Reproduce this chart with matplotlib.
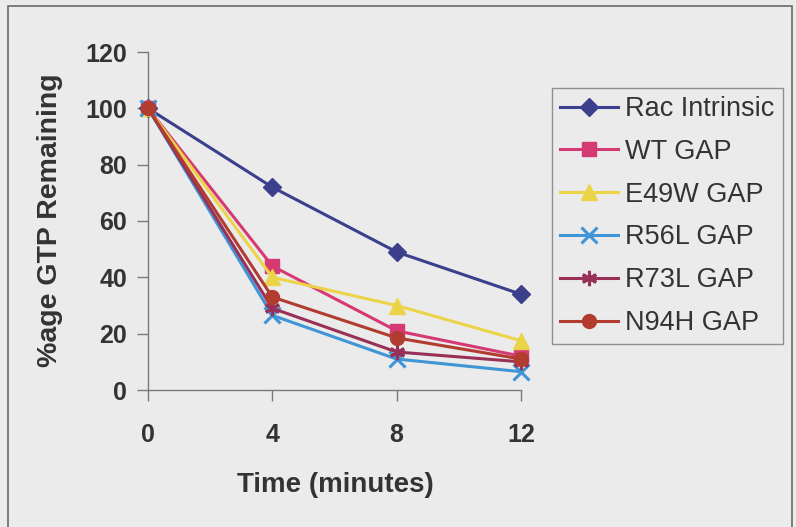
import matplotlib
matplotlib.use('Agg')
import matplotlib.pyplot as plt
from matplotlib.patches import Rectangle

# time points (minutes) and % GTP remaining
time = [0, 4, 8, 12]
rac_intrinsic = [100, 72, 49, 34]
wt_gap = [100, 44, 21, 12]
e49w_gap = [100, 40, 30, 17.5]
r56l_gap = [100, 26.5, 11, 6.5]
r73l_gap = [100, 29, 13.5, 10]
n94h_gap = [100, 33, 18.5, 11]

labels = ['Rac Intrinsic', 'WT GAP', 'E49W GAP', 'R56L GAP', 'R73L GAP', 'N94H GAP']
series = [rac_intrinsic, wt_gap, e49w_gap, r56l_gap, r73l_gap, n94h_gap]
colors = ['#3b3f8c', '#d63a74', '#ecd449', '#3f95d6', '#983058', '#b23c30']
markers = ['D', 's', '^', 'x', (6, 2, 0), 'o']
msizes = [9, 10, 11, 11, 11, 10]

bg = '#ebebeb'
txt = '#333333'
plt.rcParams['font.family'] = ['Liberation Sans', 'DejaVu Sans']

W, H = 796, 527
fig = plt.figure(figsize=(W / 100, H / 100), dpi=100, facecolor=bg)
ax = fig.add_axes([148 / W, 1 - 390 / H, (521 - 148) / W, (390 - 52) / H])
ax.set_facecolor(bg)

for y, lab, c, m, ms in zip(series, labels, colors, markers, msizes):
    ax.plot(time, y, color=c, lw=2.2, marker=m, ms=ms, mew=2.2 if m in ('x', (6, 2, 0)) else 1,
            mec=c, mfc=c, label=lab, clip_on=False, zorder=3)

ax.set_xlim(0, 12)
ax.set_ylim(0, 120)
ax.set_xticks([0, 4, 8, 12])
ax.set_yticks(range(0, 121, 20))
for s in ['top', 'right']:
    ax.spines[s].set_visible(False)
for s in ['left', 'bottom']:
    ax.spines[s].set_color('#7a7a7a')
    ax.spines[s].set_linewidth(1.0)
ax.tick_params(axis='both', direction='out', length=8, width=1, color='#7a7a7a',
               labelsize=18, labelcolor=txt)
ax.tick_params(axis='y', pad=7)
ax.tick_params(axis='x', pad=16)
for t in ax.get_xticklabels() + ax.get_yticklabels():
    t.set_fontweight('bold')

fig.text(335 / W, 1 - 485 / H, 'Time (minutes)', ha='center', va='center',
         fontsize=20, fontweight='bold', color=txt)
fig.text(50 / W, 1 - 220 / H, '%age GTP Remaining', ha='center', va='center',
         rotation=90, fontsize=20.5, fontweight='bold', color=txt)

leg = fig.legend(loc='upper left', bbox_to_anchor=(552 / W, 1 - 88 / H),
                 bbox_transform=fig.transFigure, borderaxespad=0,
                 fontsize=19.5, frameon=True, fancybox=False, handlelength=2.15,
                 handletextpad=0.25, labelspacing=0.62, borderpad=0.3)
fr = leg.get_frame()
fr.set_edgecolor('#7a7a7a')
fr.set_facecolor(bg)
fr.set_linewidth(1.0)
for t in leg.get_texts():
    t.set_color(txt)

# outer chart border
fig.patches.append(Rectangle((8 / W, -0.01), (W - 12) / W, 1 - 6 / H + 0.01,
                             transform=fig.transFigure, fill=False,
                             edgecolor='#6a6a6a', lw=1.2))

fig.savefig('out.png', dpi=100, facecolor=bg)
